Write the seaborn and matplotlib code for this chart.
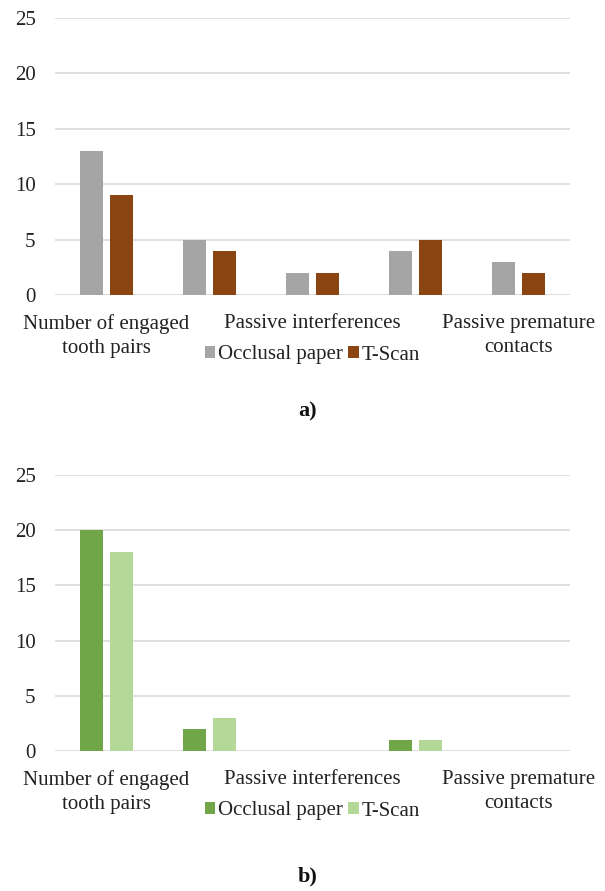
import matplotlib
matplotlib.use("Agg")
import matplotlib.pyplot as plt
import seaborn as sns
import pandas as pd

categories = ["Number of engaged\ntooth pairs", "Active interferences",
              "Passive interferences", "Active premature contacts",
              "Passive premature\ncontacts"]
shown_labels = ["Number of engaged\ntooth pairs", "", "Passive interferences", "",
                "Passive premature\ncontacts"]
methods = ["Occlusal paper", "T-Scan"]
a_paper = [13, 5, 2, 4, 3]
a_tscan = [9, 4, 2, 5, 2]
b_paper = [20, 2, 0, 1, 0]
b_tscan = [18, 3, 0, 1, 0]
yticks = [0, 5, 10, 15, 20, 25]

sns.set_theme(style="white")
plt.rcParams['font.family'] = ['Liberation Serif', 'DejaVu Serif']

fig = plt.figure(figsize=(6.05, 8.91), dpi=100)
W, H = 605, 891
FS = 15


def make_df(p, t):
    rows = []
    for c, v in zip(categories, p):
        rows.append((c, methods[0], v))
    for c, v in zip(categories, t):
        rows.append((c, methods[1], v))
    return pd.DataFrame(rows, columns=["category", "method", "value"])


def panel(top, bottom, p, t, colors, letter, letter_y):
    ax = fig.add_axes([55 / W, 1 - bottom / H, (570 - 55) / W, (bottom - top) / H])
    df = make_df(p, t)
    sns.barplot(data=df, x="category", y="value", hue="method", order=categories,
                hue_order=methods, palette=colors, width=0.58, gap=0.22,
                saturation=1, ax=ax, linewidth=0)
    ax.set_ylim(0, 25)
    ax.set_xlim(-0.5, 4.5)
    ax.set_yticks(yticks)
    ax.set_yticklabels([str(v) for v in yticks], fontsize=FS, color="#222222")
    ax.set_xticks(range(len(categories)))
    ax.set_xticklabels(shown_labels, fontsize=FS, color="#222222", linespacing=1.35)
    ax.tick_params(axis="both", length=0)
    ax.tick_params(axis="y", pad=14)
    ax.tick_params(axis="x", pad=14)
    ax.set_xlabel("")
    ax.set_ylabel("")
    ax.grid(axis="y", color="#D9D9D9", linewidth=1.2)
    ax.set_axisbelow(True)
    for s in ax.spines.values():
        s.set_visible(False)
    h = bottom - top
    leg = ax.legend(loc="center", bbox_to_anchor=(0.5, -60 / h), ncol=2,
                    frameon=False, fontsize=FS, handlelength=0.5, handleheight=0.5,
                    handletextpad=0.15, columnspacing=0.25, borderaxespad=0,
                    borderpad=0)
    for txt in leg.get_texts():
        txt.set_color("#222222")
    fig.text(308 / W, 1 - letter_y / H, letter, ha="center", va="center",
             fontsize=16, fontweight="bold", color="#111111")
    return ax


panel(18, 295, a_paper, a_tscan, ["#A5A5A5", "#8B4513"], "a)", 411)
panel(475, 751, b_paper, b_tscan, ["#70A548", "#B3D898"], "b)", 876)

fig.savefig("out.png", dpi=100, facecolor="white")
